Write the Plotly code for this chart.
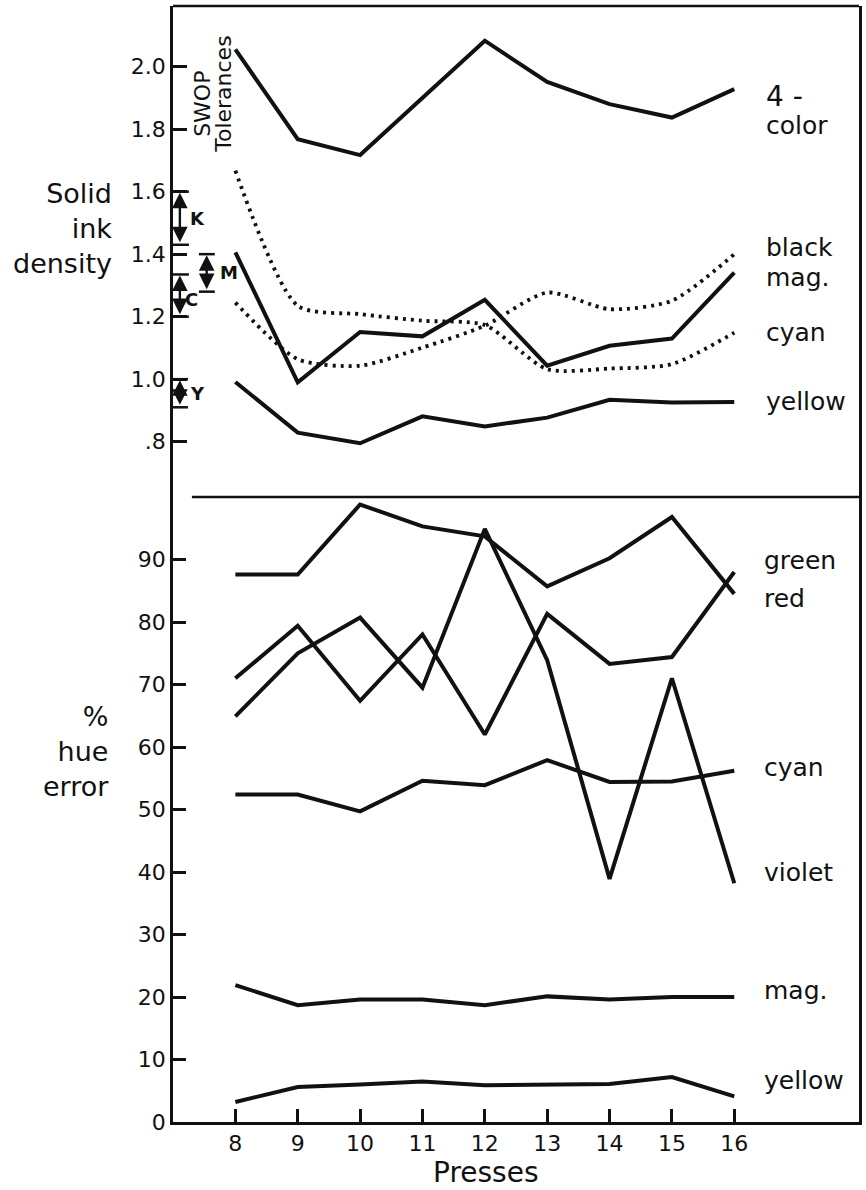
import plotly.graph_objects as go

# ---------------- data ----------------
presses = [8, 9, 10, 11, 12, 13, 14, 15, 16]

density_4color = [2.055, 1.768, 1.717, 1.900, 2.083, 1.951, 1.880, 1.837, 1.928]
density_black = [1.245, 1.064, 1.043, 1.101, 1.171, 1.277, 1.224, 1.251, 1.400]
density_mag = [1.406, 0.990, 1.151, 1.137, 1.254, 1.043, 1.107, 1.130, 1.341]
density_cyan = [1.667, 1.235, 1.208, 1.187, 1.173, 1.032, 1.034, 1.048, 1.149]
density_yellow = [0.991, 0.829, 0.795, 0.881, 0.849, 0.877, 0.934, 0.925, 0.927]

hue_green = [87.6, 87.6, 98.8, 95.3, 93.7, 85.7, 90.2, 96.8, 84.5]
hue_red = [71.0, 79.4, 67.4, 78.0, 62.0, 81.3, 73.3, 74.4, 88.0]
hue_violet = [64.9, 75.0, 80.7, 69.5, 94.9, 73.9, 38.9, 71.0, 38.2]
hue_cyan = [52.4, 52.4, 49.7, 54.6, 53.9, 57.9, 54.4, 54.5, 56.2]
hue_mag = [21.9, 18.7, 19.6, 19.6, 18.7, 20.1, 19.6, 20.0, 20.0]
hue_yellow = [3.2, 5.6, 6.0, 6.5, 5.9, 6.0, 6.1, 7.2, 4.1]

density_ticks = [0.8, 1.0, 1.2, 1.4, 1.6, 1.8, 2.0]
density_ticktext = [".8", "1.0", "1.2", "1.4", "1.6", "1.8", "2.0"]
hue_ticks = [0, 10, 20, 30, 40, 50, 60, 70, 80, 90]

# SWOP tolerance ranges
tol_names = ["K", "M", "C", "Y"]
tol_low = [1.43, 1.28, 1.20, 0.91]
tol_high = [1.60, 1.40, 1.335, 1.00]

FONT = "DejaVu Sans"
BLACK = "#111111"

fig = go.Figure()

solid = dict(color=BLACK, width=4)
dotted = dict(color=BLACK, width=3.8, dash="3px,5px", shape="spline", smoothing=0.7)

# top panel (x2/y2)
for ys, ln in [(density_4color, solid), (density_mag, solid), (density_yellow, solid),
               (density_black, dotted), (density_cyan, dotted)]:
    fig.add_trace(go.Scatter(x=presses, y=ys, mode="lines", line=ln,
                             xaxis="x2", yaxis="y2", showlegend=False, hoverinfo="skip"))

# bottom panel (x/y)
for ys in [hue_green, hue_red, hue_violet, hue_cyan, hue_mag, hue_yellow]:
    fig.add_trace(go.Scatter(x=presses, y=ys, mode="lines", line=solid,
                             xaxis="x", yaxis="y", showlegend=False, hoverinfo="skip"))

# ---------------- layout ----------------
L, R, T, B = 173, 4, 6, 68
W, H = 866, 1190
plot_h = H - T - B
split = 1 - 491 / plot_h
LW = 2.5

fig.update_layout(
    width=W, height=H,
    margin=dict(l=L, r=R, t=T, b=B),
    paper_bgcolor="white", plot_bgcolor="white",
    font=dict(family=FONT, color=BLACK, size=22),
    xaxis=dict(domain=[0, 1], range=[7, 18], tickvals=presses, ticks="inside",
               ticklen=13, tickwidth=LW, tickcolor=BLACK, anchor="y",
               tickfont=dict(size=22), showline=True, linecolor=BLACK, linewidth=LW,
               mirror=False, showgrid=False, zeroline=False),
    yaxis=dict(domain=[0, split], range=[0, 100], tickvals=hue_ticks, ticks="inside",
               ticklen=13, tickwidth=LW, tickcolor=BLACK, anchor="x",
               tickfont=dict(size=22), showline=True, linecolor=BLACK, linewidth=LW,
               mirror=True, showgrid=False, zeroline=False),
    xaxis2=dict(domain=[0, 1], range=[7, 18], showticklabels=False, ticks="",
                anchor="y2", showline=False, showgrid=False, zeroline=False),
    yaxis2=dict(domain=[split, 1], range=[0.623, 2.194], tickvals=density_ticks,
                ticktext=density_ticktext, ticks="inside", ticklen=14, tickwidth=LW,
                tickcolor=BLACK, anchor="x2", tickfont=dict(size=22),
                showline=True, linecolor=BLACK, linewidth=LW, mirror=True,
                showgrid=False, zeroline=False),
)

def py(pix):
    return (H - B - pix) / plot_h

def px(pix):
    return (pix - L) / (W - L - R)

ann = []
# axis titles
ann.append(dict(text="Solid<br>ink<br>density", xref="paper", yref="paper",
                x=px(114), y=py(228), xanchor="right", yanchor="middle", align="right",
                showarrow=False, font=dict(size=27)))
ann.append(dict(text="%<br>hue<br>error", xref="paper", yref="paper",
                x=px(111), y=py(751), xanchor="right", yanchor="middle", align="right",
                showarrow=False, font=dict(size=27)))
ann.append(dict(text="Presses", xref="paper", yref="paper",
                x=px(487), y=py(1172), xanchor="center", yanchor="middle",
                showarrow=False, font=dict(size=28)))
# SWOP Tolerances rotated
ann.append(dict(text="SWOP", xref="paper", yref="paper", x=px(202), y=py(104),
                textangle=-90, showarrow=False, font=dict(size=22),
                xanchor="center", yanchor="middle"))
ann.append(dict(text="Tolerances", xref="paper", yref="paper", x=px(224), y=py(94),
                textangle=-90, showarrow=False, font=dict(size=22),
                xanchor="center", yanchor="middle"))

# series labels, top panel
lab_x = 16.48
top_labels = [("4 -", 1.906, 28), ("color", 1.812, 25), ("black", 1.422, 25),
              ("mag.", 1.326, 25), ("cyan", 1.150, 25), ("yellow", 0.930, 25)]
for t, yv, fs in top_labels:
    ann.append(dict(text=t, x=lab_x, y=yv, xref="x2", yref="y2", xanchor="left",
                    yanchor="middle", showarrow=False, font=dict(size=fs)))
bottom_labels = [("green", 89.9), ("red", 83.8), ("cyan", 56.8), ("violet", 40.0),
                 ("mag.", 21.1), ("yellow", 6.7)]
for t, yv in bottom_labels:
    ann.append(dict(text=t, x=16.45, y=yv, xref="x", yref="y", xanchor="left",
                    yanchor="middle", showarrow=False, font=dict(size=25)))

# frame: top border and panel divider
shapes = [
    dict(type="line", xref="paper", yref="paper", x0=0, x1=1, y0=1, y1=1,
         line=dict(color=BLACK, width=LW)),
    dict(type="line", xref="paper", yref="paper", x0=px(192), x1=1, y0=split, y1=split,
         line=dict(color=BLACK, width=LW)),
]

# tolerance bars
bar_x = {"K": 7.11, "C": 7.11, "Y": 7.11, "M": 7.54}
cap = {"K": (7.0, 7.255), "C": (7.0, 7.255), "Y": (7.0, 7.24), "M": (7.415, 7.67)}
lab_pos = {"K": (7.39, 1.515), "M": (7.89, 1.34), "C": (7.30, 1.255), "Y": (7.39, 0.955)}
for n, lo, hi in zip(tol_names, tol_low, tol_high):
    bx = bar_x[n]
    ann.append(dict(x=bx, y=hi, ax=bx, ay=lo, xref="x2", yref="y2", axref="x2", ayref="y2",
                    text="", showarrow=True, arrowhead=2, arrowside="end+start",
                    arrowsize=1.3, arrowwidth=2.4, arrowcolor=BLACK,
                    standoff=1, startstandoff=1))
    c0, c1 = cap[n]
    for v in (lo, hi):
        shapes.append(dict(type="line", xref="x2", yref="y2", x0=c0, x1=c1, y0=v, y1=v,
                           line=dict(color=BLACK, width=LW)))
    lx, ly = lab_pos[n]
    ann.append(dict(text="<b>" + n + "</b>", x=lx, y=ly, xref="x2", yref="y2",
                    showarrow=False, font=dict(size=18), xanchor="center",
                    yanchor="middle"))

fig.update_layout(annotations=ann, shapes=shapes)

fig.write_html("out.html")
